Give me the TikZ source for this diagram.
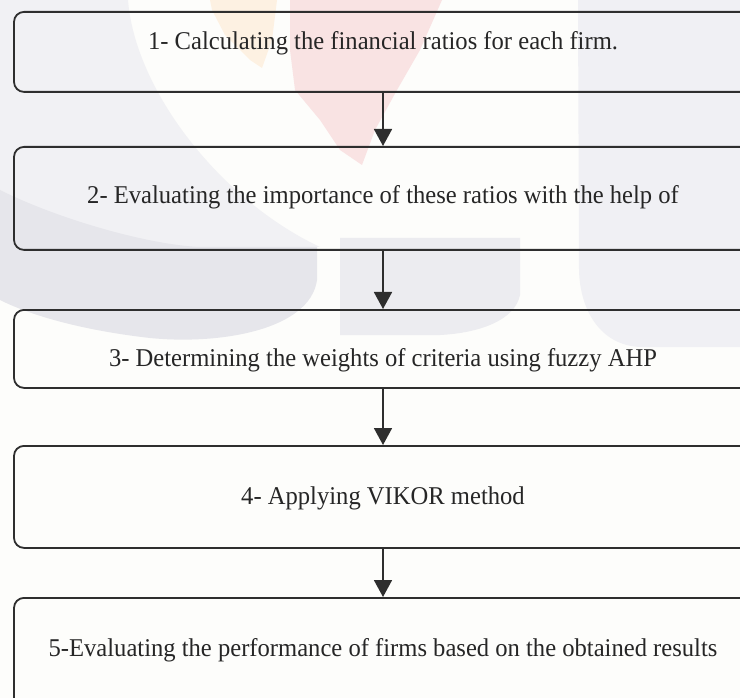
\documentclass[tikz,border=0pt]{standalone}
\usepackage{fontspec}
\setmainfont{Liberation Serif}
\usetikzlibrary{arrows.meta}

\definecolor{ink}{HTML}{2E2E2E}
\definecolor{textink}{HTML}{262626}
\definecolor{paper}{HTML}{FDFDFB}
\definecolor{wmlight}{HTML}{F1F1F4}
\definecolor{wmdark}{HTML}{E6E6EB}
\definecolor{wmmid}{HTML}{ECECF0}
\definecolor{wmright}{HTML}{F0F0F4}
\definecolor{wmred}{HTML}{F9E3E3}
\definecolor{wmorange}{HTML}{FDF1E2}

\begin{document}
\begin{tikzpicture}[x=1pt,y=-1pt,
  stepbox/.style={rectangle, draw=ink, line width=1.8pt, rounded corners=10pt,
                  minimum width=738pt, inner sep=0pt, anchor=north},
  steptext/.style={anchor=base, inner sep=0pt, text=textink,
                   font=\fontsize{24.6}{28}\selectfont},
  flow/.style={draw=ink, line width=1.8pt, -{Triangle[width=18pt,length=17pt]}}
]
\useasboundingbox (0,0) rectangle (740,698);
\clip (0,0) rectangle (740,698);
\fill[paper] (0,0) rectangle (740,698);

% faint background emblem
\fill[wmlight] (0,0) -- (128,0) .. controls (135,90) and (220,200) .. (320,247) -- (0,247) -- cycle;
\fill[wmdark] (0,190) .. controls (60,220) and (150,245) .. (200,247) -- (317,247) -- (317,280)
  .. controls (310,330) and (220,345) .. (150,338) .. controls (80,330) and (30,315) .. (0,300) -- cycle;
\fill[wmmid] (340,238) -- (520,238) -- (520,295) .. controls (515,320) and (480,333) .. (440,335) -- (340,335) -- cycle;
\fill[wmright] (578,0) -- (740,0) -- (740,347) -- (640,347) .. controls (600,345) and (580,310) .. (579,270) -- cycle;
\fill[wmorange] (210,0) -- (277,0) -- (272,40) -- (262,68) -- (250,60) -- (225,35) -- (212,10) -- cycle;
\fill[wmred] (290,0) -- (442,0) -- (420,50) -- (397,90) -- (375,130) -- (362,165) -- (340,150) -- (320,120) -- (295,90) -- (290,50) -- cycle;

% process steps
\node[stepbox, minimum height=80pt]  (b1) at (383,11)  {};
\node[stepbox, minimum height=103pt] (b2) at (383,146) {};
\node[stepbox, minimum height=78pt]  (b3) at (383,309) {};
\node[stepbox, minimum height=102pt] (b4) at (383,445) {};
\node[stepbox, minimum height=130pt] (b5) at (383,597) {};

\node[steptext] (t1) at (383,50)  {\scalebox{1}[1.04]{1- Calculating the financial ratios for each firm.}};
\node[steptext] (t2) at (383,204) {\scalebox{1}[1.04]{2- Evaluating the importance of these ratios with the help of}};
\node[steptext] (t3) at (383,366) {\scalebox{1}[1.04]{3- Determining the weights of criteria using fuzzy AHP}};
\node[steptext] (t4) at (383,504) {\scalebox{1}[1.04]{4- Applying VIKOR method}};
\node[steptext] (t5) at (383,656) {\scalebox{1}[1.04]{5-Evaluating the performance of firms based on the obtained results}};

% connectors
\draw[flow] (b1.south) -- (b2.north);
\draw[flow] (b2.south) -- (b3.north);
\draw[flow] (b3.south) -- (b4.north);
\draw[flow] (b4.south) -- (b5.north);
\end{tikzpicture}
\end{document}
